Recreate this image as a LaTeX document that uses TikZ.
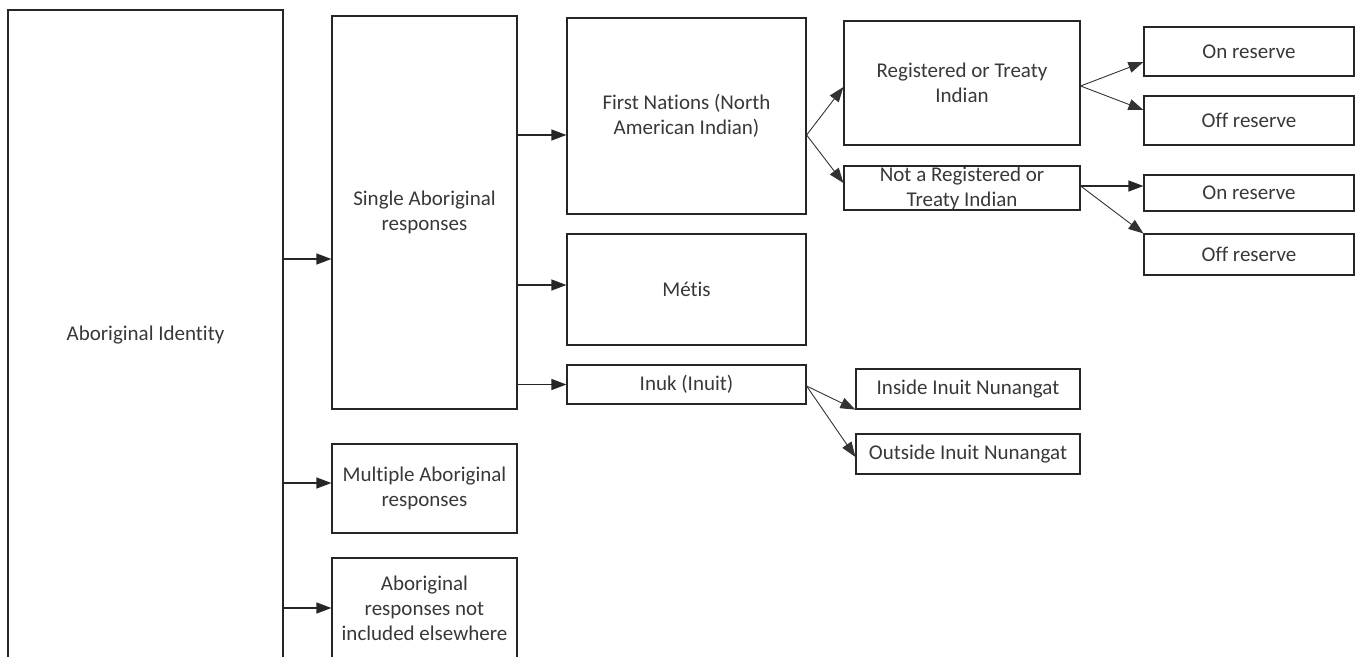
\documentclass[tikz,border=0pt]{standalone}
\usepackage{fontspec}
\setmainfont{Carlito}[Ligatures={NoCommon}]
\usetikzlibrary{arrows.meta}
\begin{document}
\begin{tikzpicture}[x=1pt,y=-1pt,
  box/.style={draw=black!85, line width=1.2pt, rectangle, inner sep=0pt, align=center,
    text=black!78, font=\fontsize{21}{25}\selectfont},
  txt/.style={inner sep=0pt, align=center, text=black!78, font=\fontsize{21}{25}\selectfont},
  conn/.style={draw=black!85, line width=1.2pt, -{Triangle[length=15pt,width=11pt]}},
  dconn/.style={draw=black!80, line width=0.9pt, -{Triangle[length=15pt,width=11pt]}}]
\useasboundingbox (0,0) rectangle (1359,656);
\clip (0,0) rectangle (1359,656);
% column 1
\node[box, minimum width=275pt, minimum height=650pt] (id) at (145.5,335) {Aboriginal Identity};
% column 2
\node[box, minimum width=185pt, minimum height=393pt] (single) at (424.5,212.5) {Single Aboriginal\\responses};
\node[box, minimum width=185pt, minimum height=89pt] (multi) at (424.5,488.5) {Multiple Aboriginal\\responses};
\node[box, minimum width=185pt, minimum height=101pt] (nie) at (424.5,608.5) {Aboriginal\\responses not\\included elsewhere};
% column 3
\node[box, minimum width=239pt, minimum height=196pt] (fn) at (686.5,116) {First Nations (North\\American Indian)};
\node[box, minimum width=239pt, minimum height=111pt] (metis) at (686.5,289.5) {Métis};
\node[box, minimum width=239pt, minimum height=39pt] (inuk) at (686.5,384.5) {Inuk (Inuit)};
% column 4
\node[box, minimum width=236pt, minimum height=124pt] (reg) at (962,83) {Registered or Treaty\\Indian};
\node[box, minimum width=236pt, minimum height=44pt,
  label={[txt]center:Not a Registered or\\Treaty Indian}] (notreg) at (962,188) {};
\node[box, minimum width=224pt, minimum height=40pt] (inside) at (968,389) {Inside Inuit Nunangat};
\node[box, minimum width=224pt, minimum height=40pt] (outside) at (968,454) {Outside Inuit Nunangat};
% column 5
\node[box, minimum width=210pt, minimum height=49pt] (on1) at (1249,51.5) {On reserve};
\node[box, minimum width=210pt, minimum height=49pt] (off1) at (1249,120.5) {Off reserve};
\node[box, minimum width=210pt, minimum height=36pt] (on2) at (1249,193) {On reserve};
\node[box, minimum width=210pt, minimum height=41pt] (off2) at (1249,254.5) {Off reserve};
% connectors
\draw[conn] (id.east |- 0,259) -- (single.west |- 0,259);
\draw[conn] (id.east |- 0,483) -- (multi.west |- 0,483);
\draw[conn] (id.east |- 0,608) -- (nie.west |- 0,608);
\draw[conn] (single.east |- 0,135) -- (fn.west |- 0,135);
\draw[conn] (single.east |- 0,285) -- (metis.west |- 0,285);
\draw[conn] (single.east |- inuk.west) -- (inuk.west);
\draw[dconn] (fn.east |- 0,135) -- (reg.west |- 0,87);
\draw[dconn] (fn.east |- 0,135) -- (notreg.west |- 0,183);
\draw[dconn] (reg.east |- 0,86) -- (on1.west |- 0,62);
\draw[dconn] (reg.east |- 0,86) -- (off1.west |- 0,110);
\draw[conn] (notreg.east |- 0,186) -- (on2.west |- 0,186);
\draw[dconn] (notreg.east |- 0,186) -- (off2.north west);
\draw[dconn] (inuk.east |- 0,386) -- (inside.south west);
\draw[dconn] (inuk.east |- 0,386) -- (outside.west |- 0,457);
\end{tikzpicture}
\end{document}
